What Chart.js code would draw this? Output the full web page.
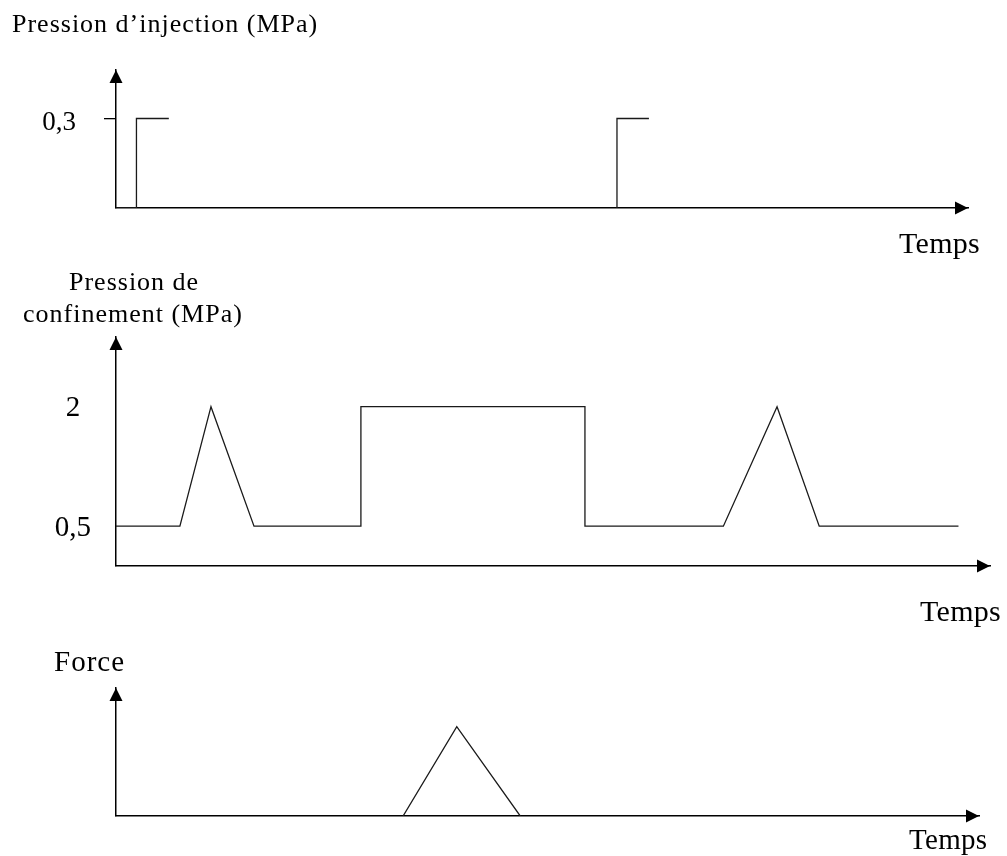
<!DOCTYPE html>
<html lang="fr">
<head>
<meta charset="utf-8">
<title>Pression d'injection, pression de confinement et force</title>
<script src="https://cdn.jsdelivr.net/npm/chart.js@4.4.0/dist/chart.umd.min.js"></script>
<style>
  html, body { margin: 0; padding: 0; background: #fff; }
  #page { position: relative; width: 1007px; height: 856px; overflow: hidden; }
  canvas { position: absolute; left: 0; }
</style>
</head>
<body>
<div id="page">
  <canvas id="grInjection" width="1007" height="265" style="top:0px"></canvas>
  <canvas id="grConfinement" width="1007" height="373" style="top:262px"></canvas>
  <canvas id="grForce" width="1007" height="221" style="top:635px"></canvas>
</div>
<script>
// temps en unites arbitraires, pressions en MPa
var injTemps1 = [0, 2.4, 2.4, 6.2];
var injPression1 = [0, 0, 0.3, 0.3];
var injTemps2 = [58.8, 58.8, 62.55];
var injPression2 = [0, 0.3, 0.3];
var injTicks = [0.3];

var confTemps = [0, 7.5, 11.15, 16.2, 28.75, 28.75, 55.05, 55.05, 71.3, 77.6, 82.55, 98.9];
var confPression = [0.5, 0.5, 2, 0.5, 0.5, 2, 2, 0.5, 0.5, 2, 0.5, 0.5];
var confTicks = [0.5, 2];

var forceTemps = [33.7, 40, 47.45];
var forceValeurs = [0, 1, 0];

var police = "'Liberation Serif', 'Times New Roman', serif";

function points(xs, ys) {
  return xs.map(function (x, i) { return { x: x, y: ys[i] }; });
}

function virgule(v) {
  return String(v).replace('.', ',');
}

// fleches au bout des axes
var flechesAxes = {
  id: 'flechesAxes',
  afterDraw: function (chart) {
    var ctx = chart.ctx, sx = chart.scales.x, sy = chart.scales.y;
    var L = 13, h = 6.5;
    var yAxe = sx.top, xAxe = sy.right;
    ctx.save();
    ctx.fillStyle = '#000';
    ctx.beginPath();
    ctx.moveTo(sx.right, yAxe);
    ctx.lineTo(sx.right - L, yAxe - h);
    ctx.lineTo(sx.right - L, yAxe + h);
    ctx.closePath();
    ctx.fill();
    ctx.beginPath();
    ctx.moveTo(xAxe, sy.top);
    ctx.lineTo(xAxe - h, sy.top + L);
    ctx.lineTo(xAxe + h, sy.top + L);
    ctx.closePath();
    ctx.fill();
    ctx.restore();
  }
};

// titres des axes
var etiquettes = {
  id: 'etiquettes',
  afterDraw: function (chart, args, opts) {
    var ctx = chart.ctx;
    ctx.save();
    ctx.fillStyle = '#000';
    ctx.textAlign = 'left';
    ctx.textBaseline = 'alphabetic';
    (opts.items || []).forEach(function (it) {
      ctx.font = it.size + 'px ' + police;
      ctx.letterSpacing = (it.espace || 0) + 'px';
      ctx.fillText(it.texte, it.x, it.y);
    });
    ctx.restore();
  }
};

function schema(id, datasets, cfg) {
  return new Chart(document.getElementById(id), {
    type: 'line',
    data: { datasets: datasets },
    options: {
      responsive: false,
      animation: false,
      layout: { padding: { top: cfg.haut, right: cfg.droite, left: 0, bottom: 0 } },
      elements: {
        point: { radius: 0 },
        line: { borderColor: '#1a1a1a', borderWidth: 1.3, tension: 0, fill: false }
      },
      plugins: {
        legend: { display: false },
        tooltip: { enabled: false },
        etiquettes: { items: cfg.textes }
      },
      scales: {
        x: {
          type: 'linear', min: 0, max: cfg.tMax,
          ticks: { display: false },
          grid: { display: false, drawTicks: false },
          border: { color: '#000', width: 1.5 },
          afterFit: function (s) { s.height = cfg.basX; }
        },
        y: {
          type: 'linear', min: 0, max: cfg.yMax,
          afterBuildTicks: function (s) {
            s.ticks = cfg.graduations.map(function (v) { return { value: v }; });
          },
          ticks: {
            display: cfg.graduations.length > 0,
            callback: virgule,
            color: '#000',
            font: { family: police, size: cfg.taille },
            padding: cfg.ecart,
            crossAlign: cfg.alignement,
            labelOffset: cfg.decalage
          },
          grid: {
            display: cfg.trait,
            drawOnChartArea: false,
            drawTicks: cfg.trait,
            tickLength: 12,
            color: '#000',
            lineWidth: 1.3
          },
          border: { color: '#000', width: 1.5 },
          afterFit: function (s) { s.width = 116; }
        }
      }
    },
    plugins: [flechesAxes, etiquettes]
  });
}

schema('grInjection', [
  { label: 'Injection 1', data: points(injTemps1, injPression1) },
  { label: 'Injection 2', data: points(injTemps2, injPression2) }
], {
  haut: 70, droite: 39, basX: 57, tMax: 100, yMax: 0.4626,
  graduations: injTicks, taille: 27, ecart: 28, alignement: 'near', decalage: 4, trait: true,
  textes: [
    { texte: 'Pression d\u2019injection (MPa)', x: 12, y: 32, size: 26, espace: 1 },
    { texte: 'Temps', x: 899, y: 253, size: 30, espace: 0.3 }
  ]
});

schema('grConfinement', [
  { label: 'Pression de confinement', data: points(confTemps, confPression) }
], {
  haut: 75, droite: 17, basX: 69, tMax: 102.6, yMax: 2.875,
  graduations: confTicks, taille: 29, ecart: 25, alignement: 'center', decalage: 2, trait: false,
  textes: [
    { texte: 'Pression de', x: 69, y: 28, size: 26, espace: 1 },
    { texte: 'confinement (MPa)', x: 23, y: 60, size: 26, espace: 1 },
    { texte: 'Temps', x: 920, y: 359, size: 30, espace: 0.3 }
  ]
});

schema('grForce', [
  { label: 'Force', data: points(forceTemps, forceValeurs) }
], {
  haut: 53, droite: 28, basX: 40, tMax: 101.3, yMax: 1.433,
  graduations: [], taille: 27, ecart: 0, alignement: 'near', decalage: 0, trait: false,
  textes: [
    { texte: 'Force', x: 54, y: 36, size: 29, espace: 1 },
    { texte: 'Temps', x: 909, y: 214, size: 29, espace: 0.3 }
  ]
});
</script>
</body>
</html>
